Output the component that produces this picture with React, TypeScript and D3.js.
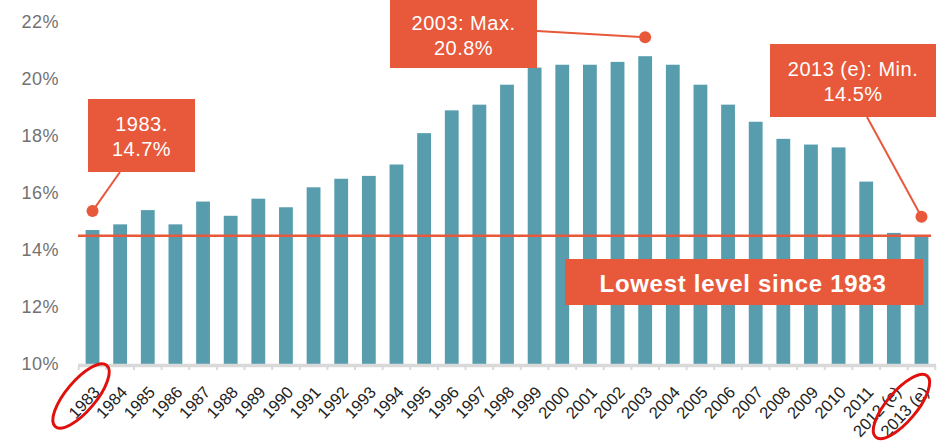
import React from 'react'
import { scaleBand, scaleLinear } from 'd3'

const years = [
  '1983', '1984', '1985', '1986', '1987', '1988', '1989', '1990', '1991', '1992',
  '1993', '1994', '1995', '1996', '1997', '1998', '1999', '2000', '2001', '2002',
  '2003', '2004', '2005', '2006', '2007', '2008', '2009', '2010', '2011', '2012 (e)', '2013 (e)',
]
const rates = [
  14.7, 14.9, 15.4, 14.9, 15.7, 15.2, 15.8, 15.5, 16.2, 16.5,
  16.6, 17.0, 18.1, 18.9, 19.1, 19.8, 20.4, 20.5, 20.5, 20.6,
  20.8, 20.5, 19.8, 19.1, 18.5, 17.9, 17.7, 17.6, 16.4, 14.6, 14.5,
]
const yTicks = [10, 12, 14, 16, 18, 20, 22]
const minLevel = 14.5
const circledYears = ['1983', '2013 (e)']

// callouts: which bar they point to and their two text lines
const calloutYears = ['1983', '2003', '2013 (e)']
const calloutLines = [
  ['1983.', '14.7%'],
  ['2003: Max.', '20.8%'],
  ['2013 (e): Min.', '14.5%'],
]
const bannerText = 'Lowest level since 1983'

const W = 941, H = 447
const RED = '#E8583B'
const BAR = '#589DAE'
const FONT = '"Liberation Sans", Arial, Helvetica, sans-serif'

export default function App() {
  const x = scaleBand<string>().domain(years).range([78.7, 935.3]).paddingInner(0.5).paddingOuter(0.25)
  const y = scaleLinear().domain([10, 22]).range([364, 22])
  const cx = (d: string) => (x(d) as number) + x.bandwidth() / 2

  // box placements (pixels)
  const boxes = [
    { x: 88, y: 99, w: 107, h: 73, lx: 120, ly: 172 },
    { x: 390, y: -2, w: 147, h: 70, lx: 537, ly: 31 },
    { x: 770, y: 44, w: 166, h: 73, lx: 867, ly: 117 },
  ]

  return (
    <svg width={W} height={H} style={{ position: 'absolute', left: 0, top: 0, fontFamily: FONT }}>
      {/* y ticks */}
      {yTicks.map(t => (
        <text key={t} x={59} y={y(t)} dy="0.35em" textAnchor="end" fontSize={18} letterSpacing={0.5} fill="#727272">{t}%</text>
      ))}

      {/* bars */}
      {years.map((d, i) => (
        <rect key={d} x={x(d)} y={y(rates[i])} width={x.bandwidth()} height={y(10) - y(rates[i])} fill={BAR} />
      ))}

      {/* axis */}
      <line x1={78} x2={936} y1={365.5} y2={365.5} stroke="#d9d9d9" strokeWidth={3.5} />
      {years.concat(['end']).map((d, i) => {
        const tx = 78.7 + i * x.step()
        return <line key={'t' + i} x1={tx} x2={tx} y1={366} y2={370} stroke="#d9d9d9" strokeWidth={2} />
      })}
      {years.map(d => (
        <text key={'l' + d} transform={`translate(${cx(d) + 4},${389}) rotate(-47)`} textAnchor="end" dy="0.35em"
          fontSize={16.5} fill="#222">{d}</text>
      ))}

      {/* min line */}
      <line x1={78} x2={931} y1={y(minLevel)} y2={y(minLevel)} stroke={RED} strokeWidth={2.5} />

      {/* banner */}
      <rect x={565} y={259} width={358} height={46} fill={RED} />
      <text x={743} y={292} textAnchor="middle" fontSize={24} letterSpacing={0.7} fontWeight="bold" fill="#fff">{bannerText}</text>

      {/* callouts */}
      {calloutYears.map((yr, k) => {
        const b = boxes[k]
        const dx = cx(yr)
        const dy = y(rates[years.indexOf(yr)]) - 19
        return (
          <g key={yr}>
            <line x1={b.lx} y1={b.ly} x2={dx} y2={dy} stroke={RED} strokeWidth={2} />
            <circle cx={dx} cy={dy} r={6} fill={RED} />
            <rect x={b.x} y={b.y} width={b.w} height={b.h} fill={RED} />
            {calloutLines[k].map((ln, j) => (
              <text key={j} x={b.x + b.w / 2} y={b.y + 32 + j * 25} textAnchor="middle" fontSize={20} letterSpacing={0.5} fill="#fff">{ln}</text>
            ))}
          </g>
        )
      })}

      {/* red circles around labels */}
      {circledYears.map(d => {
        const long = d.length > 4
        const ex = cx(d) - (long ? 20 : 11.5)
        const ey = long ? 406.5 : 396
        return (
          <ellipse key={'c' + d} cx={ex} cy={ey} rx={40} ry={15} fill="none" stroke="#e0100c" strokeWidth={3}
            transform={`rotate(-50,${ex},${ey})`} />
        )
      })}
    </svg>
  )
}
